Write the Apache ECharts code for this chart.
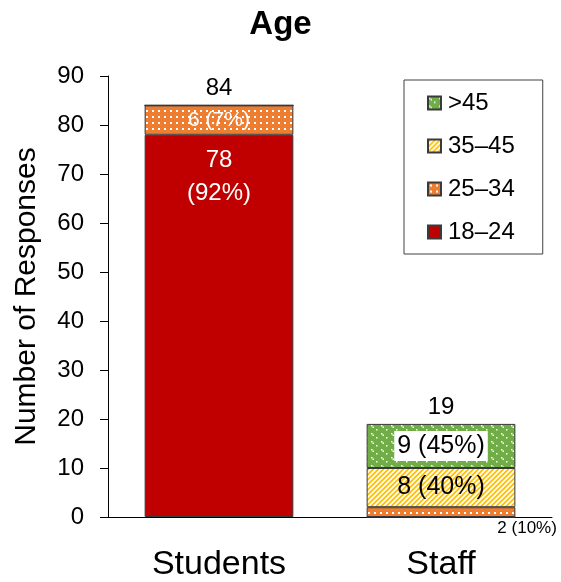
<!DOCTYPE html>
<html>
<head>
<meta charset="utf-8">
<script src="https://cdn.jsdelivr.net/npm/echarts@6/dist/echarts.min.js"></script>
<style>
  html, body { margin: 0; padding: 0; background: #fff; }
  #chart { width: 561px; height: 582px; }
</style>
</head>
<body>
<div id="chart"></div>
<script>
// Respondent groups and age-band counts
const categories = ['Students', 'Staff'];
const age18to24 = [78, 0];
const age25to34 = [6, 2];
const age35to45 = [0, 8];
const ageOver45 = [0, 9];
const totals = [84, 19];
const pct18to24 = ['92%', ''];
const pct25to34 = ['7%', '10%'];
const pct35to45 = ['', '40%'];
const pctOver45 = ['', '45%'];
const yTicks = { min: 0, max: 90, interval: 10 };

const FONT = '"Liberation Sans", Arial, sans-serif';

// Small canvas tiles used as repeating fill patterns
function tile(w, h, bg, draw) {
  const c = document.createElement('canvas');
  c.width = w; c.height = h;
  const ctx = c.getContext('2d');
  ctx.fillStyle = bg;
  ctx.fillRect(0, 0, w, h);
  ctx.fillStyle = '#fff';
  ctx.strokeStyle = '#fff';
  draw(ctx);
  return { image: c, repeat: 'repeat' };
}

const orangeDots = tile(6, 6, '#ED7D31', ctx => { ctx.fillRect(2, 2, 2, 2); });
const yellowStripes = tile(5, 5, '#FFC000', ctx => {
  ctx.lineWidth = 1.7;
  ctx.beginPath();
  ctx.moveTo(-1, 6); ctx.lineTo(6, -1);
  ctx.moveTo(-1, 1); ctx.lineTo(1, -1);
  ctx.moveTo(4, 6); ctx.lineTo(6, 4);
  ctx.stroke();
});
const greenDots = tile(10, 8, '#70AD47', ctx => {
  ctx.fillRect(1, 1, 1.5, 1.5);
  ctx.fillRect(2.5, 2.5, 1.5, 1.5);
  ctx.fillRect(6, 5, 1.5, 1.5);
});

function segData(values, labelFor) {
  return values.map((v, i) => ({
    value: v,
    label: v > 0 ? labelFor(i) : { show: false }
  }));
}

const border = { borderColor: '#3a3a3a', borderWidth: 1 };

const chart = echarts.init(document.getElementById('chart'), null, { renderer: 'canvas' });

chart.setOption({
  animation: false,
  textStyle: { fontFamily: FONT },
  title: {
    text: 'Age',
    left: 'center',
    top: 3,
    textStyle: { fontFamily: FONT, fontSize: 33, fontWeight: 'bold', color: '#000' }
  },
  legend: {
    data: ['>45', '35–45', '25–34', '18–24'],
    orient: 'vertical',
    left: 404,
    top: 80,
    padding: [11, 28, 10, 23],
    itemGap: 19,
    itemWidth: 13,
    itemHeight: 13,
    icon: 'rect',
    borderColor: '#404040',
    borderWidth: 1,
    textStyle: { fontFamily: FONT, fontSize: 24, color: '#000', padding: [0, 0, 0, 2] }
  },
  grid: { left: 108, right: 9, top: 76, bottom: 64 },
  xAxis: {
    type: 'category',
    data: categories,
    axisLine: { lineStyle: { color: '#000', width: 1 } },
    axisTick: { show: false },
    axisLabel: { fontFamily: FONT, fontSize: 34, color: '#000', margin: 31 }
  },
  yAxis: {
    type: 'value',
    min: yTicks.min,
    max: yTicks.max,
    interval: yTicks.interval,
    name: 'Number of Responses',
    nameLocation: 'middle',
    nameGap: 66,
    nameTextStyle: { fontFamily: FONT, fontSize: 30, color: '#000' },
    axisLine: { show: true, lineStyle: { color: '#000', width: 1 } },
    axisTick: { show: true, length: 8, lineStyle: { color: '#000' } },
    axisLabel: { fontFamily: FONT, fontSize: 24, color: '#000', margin: 24 },
    splitLine: { show: false }
  },
  series: [
    {
      name: '18–24', type: 'bar', stack: 'age', barWidth: '67%',
      itemStyle: Object.assign({ color: '#C00000' }, border),
      data: segData(age18to24, i => ({
        show: true, position: 'insideTop', distance: 9,
        formatter: age18to24[i] + '\n(' + pct18to24[i] + ')',
        color: '#fff', fontSize: 24, lineHeight: 33, fontFamily: FONT
      }))
    },
    {
      name: '25–34', type: 'bar', stack: 'age',
      itemStyle: Object.assign({ color: orangeDots }, border),
      data: segData(age25to34, i => i === 0 ? ({
        show: true, position: 'inside',
        formatter: age25to34[i] + ' (' + pct25to34[i] + ')',
        color: '#fff', fontSize: 21, fontFamily: FONT
      }) : ({
        show: true, position: ['100%', '100%'], offset: [-18, 3],
        align: 'left', verticalAlign: 'top',
        formatter: age25to34[i] + ' (' + pct25to34[i] + ')',
        color: '#000', fontSize: 17, fontFamily: FONT
      }))
    },
    {
      name: '35–45', type: 'bar', stack: 'age',
      itemStyle: Object.assign({ color: yellowStripes }, border),
      data: segData(age35to45, i => ({
        show: true, position: 'inside',
        formatter: age35to45[i] + ' (' + pct35to45[i] + ')',
        color: '#000', fontSize: 25, fontFamily: FONT
      }))
    },
    {
      name: '>45', type: 'bar', stack: 'age',
      itemStyle: Object.assign({ color: greenDots }, border),
      data: segData(ageOver45, i => ({
        show: true, position: 'inside',
        formatter: ageOver45[i] + ' (' + pctOver45[i] + ')',
        color: '#000', fontSize: 25, fontFamily: FONT,
        backgroundColor: '#fff', padding: [4, 3, 1, 3]
      }))
    },
    {
      name: 'total', type: 'bar', stack: 'age',
      itemStyle: { color: 'transparent', borderWidth: 0 },
      data: totals.map(() => 0),
      label: {
        show: true, position: 'top', distance: 5,
        formatter: p => String(totals[p.dataIndex]),
        color: '#000', fontSize: 24, fontFamily: FONT
      }
    }
  ]
});
</script>
</body>
</html>
